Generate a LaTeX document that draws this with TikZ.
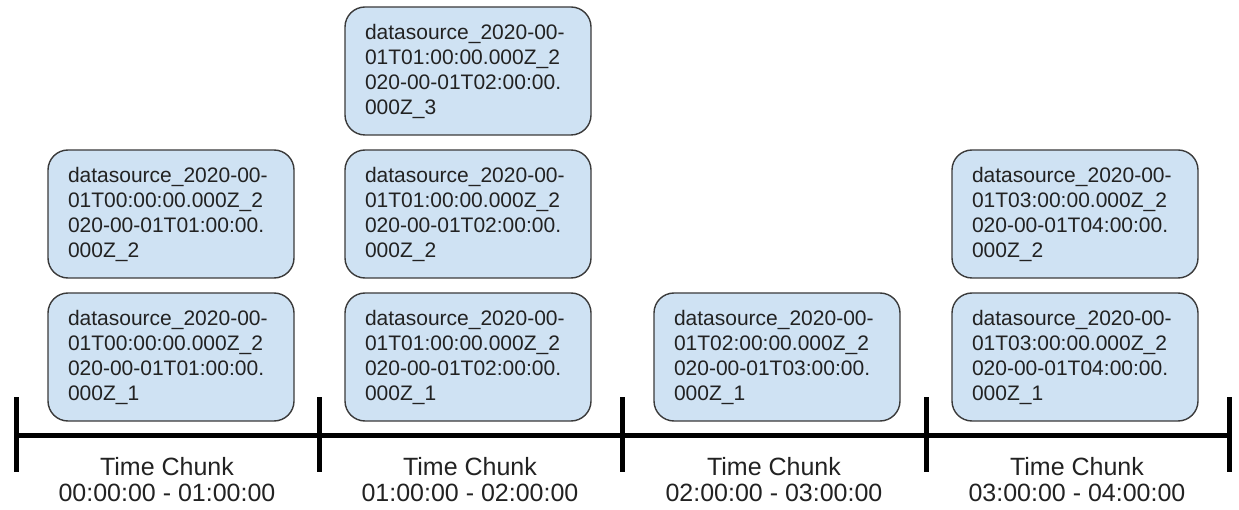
\documentclass[tikz,border=0pt]{standalone}
\usepackage{fontspec}
\setmainfont{Liberation Sans}
\definecolor{segfill}{HTML}{CFE2F3}
\definecolor{segline}{HTML}{3A3A3A}
\definecolor{segtext}{HTML}{222222}
\begin{document}
\begin{tikzpicture}[x=1pt,y=-1pt,
  segment/.style={draw=segline, line width=1.4pt, fill=segfill,
    rounded corners=20pt, minimum width=246pt, minimum height=128pt,
    text width=206pt, inner xsep=20pt, inner ysep=0pt, align=left,
    text=segtext, font=\fontsize{21}{25}\selectfont},
  axis/.style={line width=5pt, black},
  chunk/.style={align=center, text=segtext, font=\fontsize{25}{26}\selectfont}]
\useasboundingbox (0,0) rectangle (1239,510);

% segment boxes, one column per time chunk
\node[segment] (a1) at (171,357) {datasource\_2020-00-\\01T00:00:00.000Z\_2\\020-00-01T01:00:00.\\000Z\_1};
\node[segment] (a2) at (171,214) {datasource\_2020-00-\\01T00:00:00.000Z\_2\\020-00-01T01:00:00.\\000Z\_2};

\node[segment] (b1) at (468,357) {datasource\_2020-00-\\01T01:00:00.000Z\_2\\020-00-01T02:00:00.\\000Z\_1};
\node[segment] (b2) at (468,214) {datasource\_2020-00-\\01T01:00:00.000Z\_2\\020-00-01T02:00:00.\\000Z\_2};
\node[segment] (b3) at (468,71) {datasource\_2020-00-\\01T01:00:00.000Z\_2\\020-00-01T02:00:00.\\000Z\_3};

\node[segment] (c1) at (777,357) {datasource\_2020-00-\\01T02:00:00.000Z\_2\\020-00-01T03:00:00.\\000Z\_1};

\node[segment] (d1) at (1075,357) {datasource\_2020-00-\\01T03:00:00.000Z\_2\\020-00-01T04:00:00.\\000Z\_1};
\node[segment] (d2) at (1075,214) {datasource\_2020-00-\\01T03:00:00.000Z\_2\\020-00-01T04:00:00.\\000Z\_2};

% time axis with chunk boundaries
\coordinate (t0) at (16,435);
\coordinate (t1) at (319,435);
\coordinate (t2) at (622,435);
\coordinate (t3) at (926,435);
\coordinate (t4) at (1229,435);
\draw[axis] (t0) -- (t4);
\foreach \t in {t0,t1,t2,t3,t4}
  \draw[axis] ([yshift=38pt]\t) -- ([yshift=-37pt]\t);

% chunk labels
\node[chunk] (l1) at (167,480) {Time Chunk\\00:00:00 - 01:00:00};
\node[chunk] (l2) at (470,480) {Time Chunk\\01:00:00 - 02:00:00};
\node[chunk] (l3) at (774,480) {Time Chunk\\02:00:00 - 03:00:00};
\node[chunk] (l4) at (1077,480) {Time Chunk\\03:00:00 - 04:00:00};
\end{tikzpicture}
\end{document}
